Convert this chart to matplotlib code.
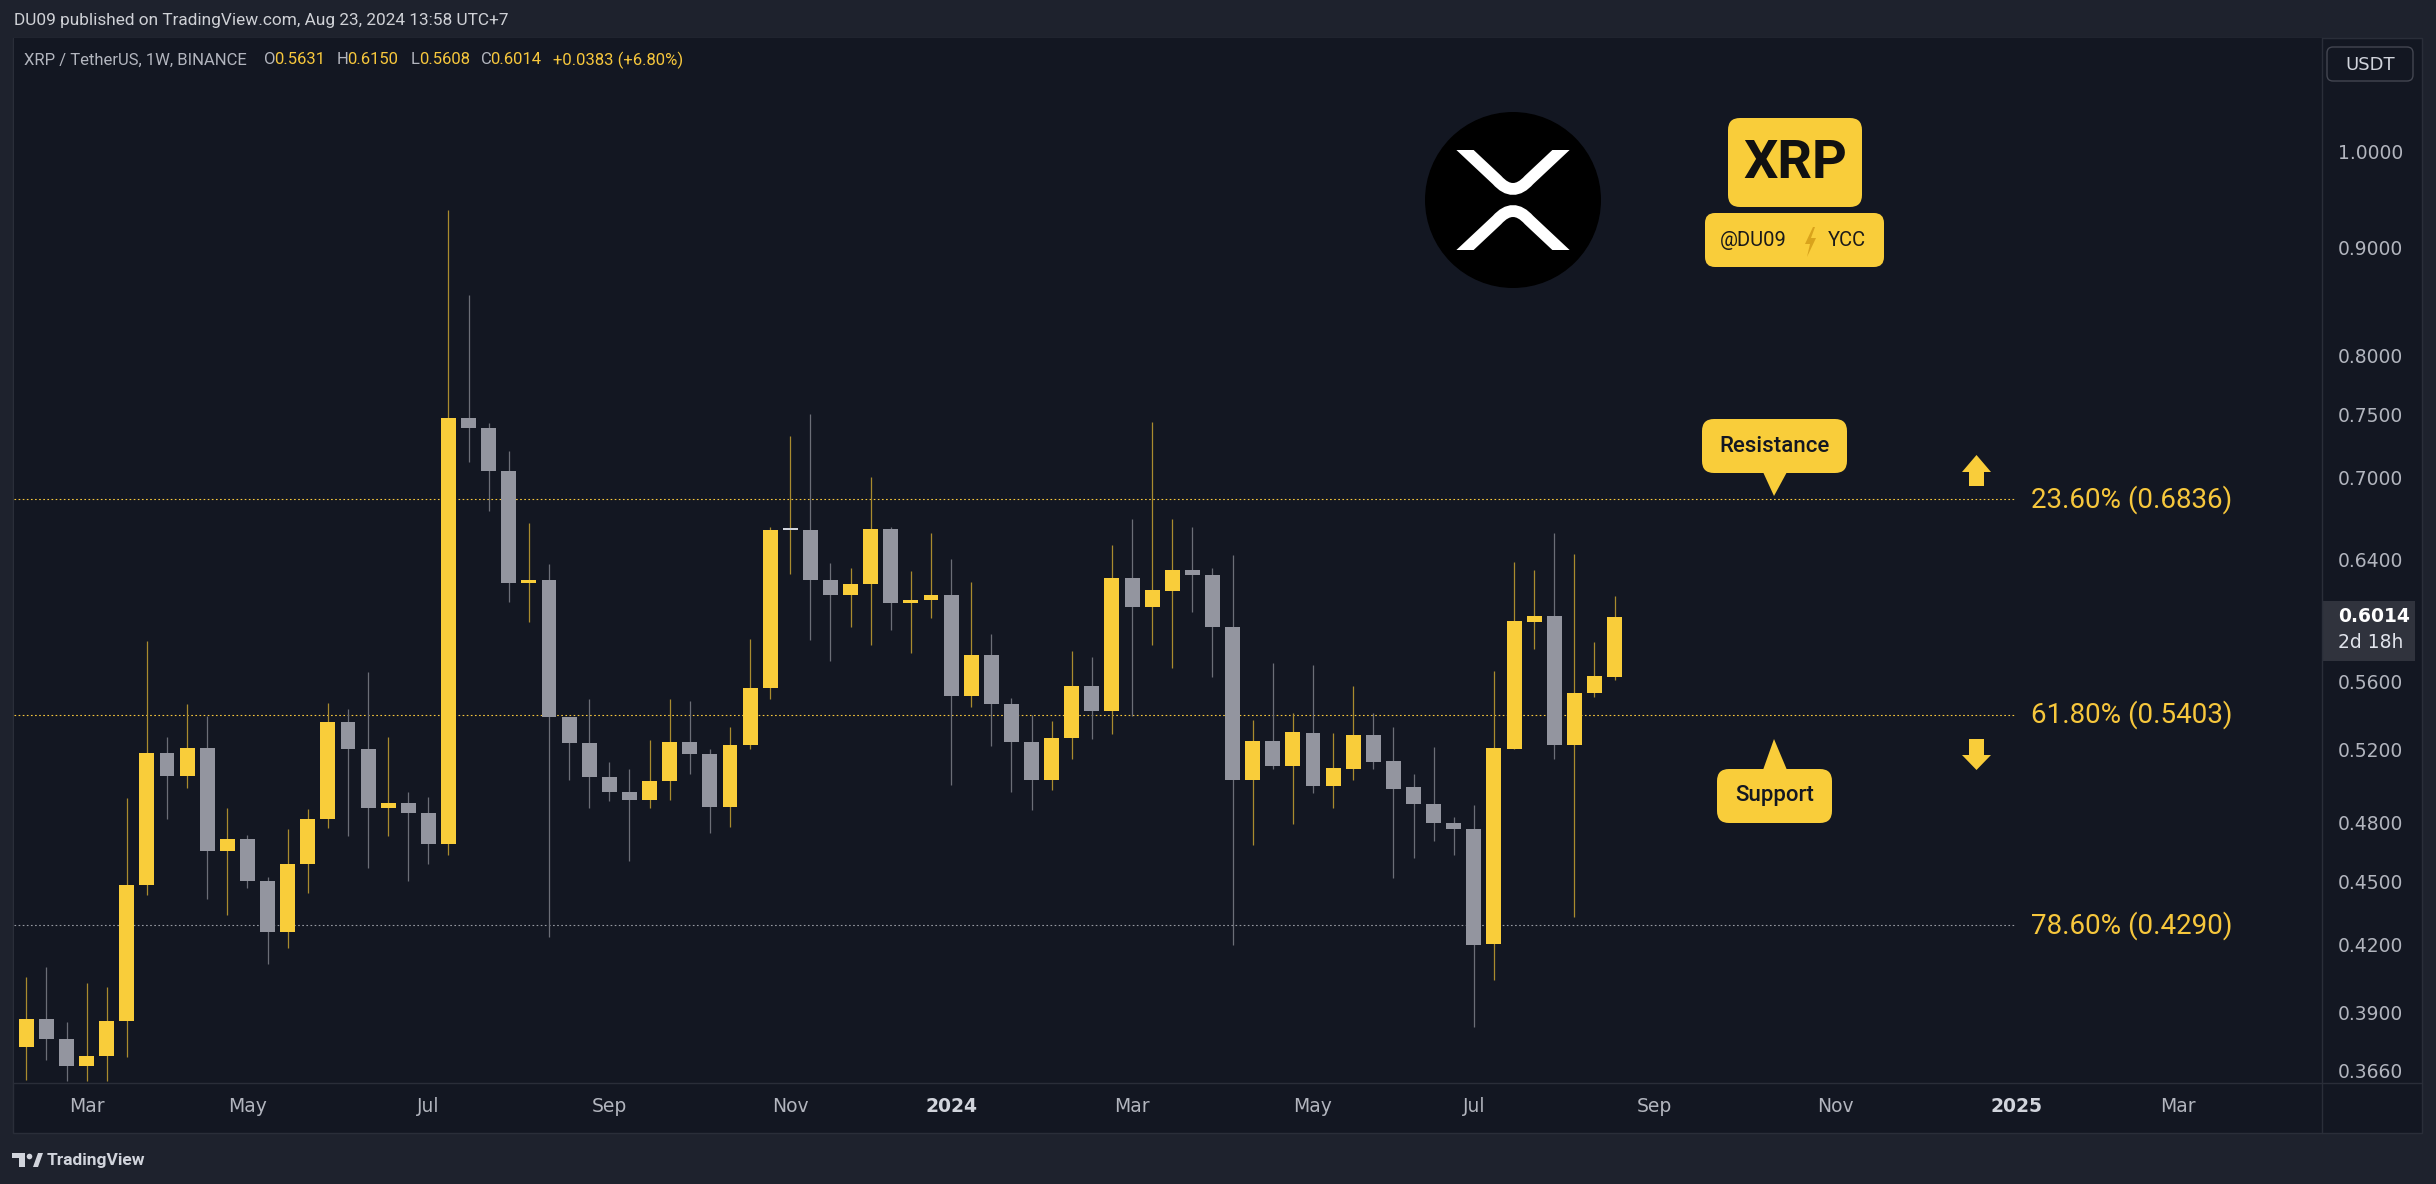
import datetime as dt
import matplotlib
matplotlib.use('Agg')
import matplotlib.pyplot as plt
import matplotlib.dates as mdates
from matplotlib.patches import FancyBboxPatch, Rectangle, Circle, Polygon, PathPatch
from matplotlib.path import Path
from matplotlib.ticker import FixedLocator, NullLocator, NullFormatter, FixedFormatter

plt.rcParams['font.family'] = ['Roboto', 'DejaVu Sans']

# XRP / TetherUS, 1W, Binance - weekly bars, first bar = week of 2023-02-13
first_week = dt.date(2023, 2, 13)
opens = [0.3754, 0.3871, 0.3787, 0.3677, 0.3721, 0.3866, 0.4486, 0.5179, 0.5054, 0.5209,
         0.4656, 0.4714, 0.4503, 0.4261, 0.4586, 0.4822, 0.5358, 0.5205, 0.4877, 0.4905,
         0.4850, 0.4691, 0.7473, 0.7389, 0.7050, 0.6237, 0.6261, 0.5389, 0.5235, 0.5048,
         0.4966, 0.4923, 0.5023, 0.5241, 0.5173, 0.4883, 0.5225, 0.5561, 0.6612, 0.6612,
         0.6257, 0.6156, 0.6233, 0.6617, 0.6102, 0.6121, 0.6156, 0.5516, 0.5767, 0.5464,
         0.5241, 0.5032, 0.5265, 0.5575, 0.5423, 0.6273, 0.6079, 0.6187, 0.6328, 0.6292,
         0.5947, 0.5032, 0.5248, 0.5105, 0.5295, 0.4995, 0.5093, 0.5281, 0.5134, 0.4991,
         0.4898, 0.4801, 0.4768, 0.4205, 0.5205, 0.5980, 0.6018, 0.5228, 0.5529, 0.5631]
highs = [0.4057, 0.4098, 0.3859, 0.4027, 0.4009, 0.4932, 0.5854, 0.5271, 0.5464, 0.5395,
         0.4877, 0.4735, 0.4523, 0.4765, 0.4874, 0.5471, 0.5433, 0.5659, 0.5271, 0.4963,
         0.4935, 0.9380, 0.8547, 0.7431, 0.7206, 0.6662, 0.6368, 0.5389, 0.5495, 0.5128,
         0.5089, 0.5255, 0.5495, 0.5484, 0.5202, 0.5328, 0.5869, 0.6633, 0.7325, 0.7507,
         0.6376, 0.6340, 0.7005, 0.6633, 0.6320, 0.6588, 0.6404, 0.6245, 0.5899, 0.5502,
         0.5399, 0.5365, 0.5792, 0.5752, 0.6505, 0.6692, 0.7441, 0.6692, 0.6633, 0.6340,
         0.6432, 0.5372, 0.5716, 0.5412, 0.5702, 0.5295, 0.5575, 0.5412, 0.5328, 0.5064,
         0.5215, 0.4832, 0.4895, 0.5666, 0.6384, 0.6328, 0.6588, 0.6440, 0.5851, 0.6150]
lows = [0.3624, 0.3704, 0.3617, 0.3617, 0.3617, 0.3716, 0.4436, 0.4822, 0.4988, 0.4416,
        0.4339, 0.4469, 0.4114, 0.4187, 0.4447, 0.4771, 0.4732, 0.4569, 0.4732, 0.4506,
        0.4589, 0.4635, 0.7125, 0.6747, 0.6113, 0.5977, 0.4237, 0.5032, 0.4877, 0.4914,
        0.4603, 0.4877, 0.4920, 0.5061, 0.4744, 0.4780, 0.5205, 0.5498, 0.6304, 0.5865,
        0.5731, 0.5943, 0.5829, 0.5928, 0.5781, 0.6007, 0.5004, 0.5447, 0.5222, 0.4966,
        0.4865, 0.4973, 0.5144, 0.5258, 0.5291, 0.5395, 0.5832, 0.5688, 0.6041, 0.5627,
        0.4200, 0.4682, 0.5089, 0.4792, 0.4960, 0.4877, 0.5032, 0.5089, 0.4520, 0.4618,
        0.4703, 0.4635, 0.3837, 0.4042, 0.5205, 0.5803, 0.5144, 0.4331, 0.5505, 0.5608]
closes = [0.3871, 0.3787, 0.3677, 0.3721, 0.3866, 0.4486, 0.5179, 0.5054, 0.5209, 0.4656,
          0.4714, 0.4503, 0.4261, 0.4586, 0.4822, 0.5358, 0.5205, 0.4877, 0.4905, 0.4850,
          0.4691, 0.7473, 0.7389, 0.7050, 0.6237, 0.6261, 0.5389, 0.5235, 0.5048, 0.4966,
          0.4923, 0.5023, 0.5241, 0.5173, 0.4883, 0.5225, 0.5561, 0.6612, 0.6612, 0.6257,
          0.6156, 0.6233, 0.6617, 0.6102, 0.6125, 0.6156, 0.5516, 0.5767, 0.5464, 0.5241,
          0.5032, 0.5265, 0.5575, 0.5426, 0.6273, 0.6079, 0.6191, 0.6328, 0.6292, 0.5943,
          0.5032, 0.5248, 0.5105, 0.5301, 0.4995, 0.5096, 0.5281, 0.5131, 0.4982, 0.4898,
          0.4801, 0.4768, 0.4200, 0.5209, 0.5984, 0.6018, 0.5228, 0.5533, 0.5634, 0.6014]

fib_pct = ['23.60%', '61.80%', '78.60%']
fib_price = [0.6836, 0.5403, 0.4290]

price_ticks = [0.366, 0.39, 0.42, 0.45, 0.48, 0.52, 0.56, 0.64, 0.70, 0.75, 0.80, 0.90, 1.00]
month_ticks = ['2023-03-06', '2023-05-01', '2023-07-03', '2023-09-04', '2023-11-06', '2024-01-01',
               '2024-03-04', '2024-05-06', '2024-07-01', '2024-09-02', '2024-11-04', '2025-01-06',
               '2025-03-03']
month_labels = ['Mar', 'May', 'Jul', 'Sep', 'Nov', '2024', 'Mar', 'May', 'Jul', 'Sep', 'Nov', '2025', 'Mar']

last_close = closes[-1]
countdown = '2d 18h'

W, H = 2436, 1184
BG = '#1e222d'
PANEL = '#131722'
LINE = '#2a2e39'
UP = '#f9cd3a'
DOWN = '#93959f'
UP_WICK = '#a98b2e'
DOWN_WICK = '#6b6e77'
AXTXT = '#b2b5be'
YEL = '#f7c73c'

fig = plt.figure(figsize=(W / 100, H / 100), dpi=100, facecolor=BG)

# background panel
bg = fig.add_axes([0, 0, 1, 1], zorder=0)
bg.set_xlim(0, W)
bg.set_ylim(H, 0)
bg.axis('off')
bg.add_patch(Rectangle((13, 38), 2409, 1095, fc=PANEL, ec=LINE, lw=1))

# price chart
ax = fig.add_axes([14 / W, 1 - 1083 / H, (2322 - 14) / W, (1083 - 38) / H], zorder=1)
ax.set_facecolor(PANEL)
for s in ax.spines.values():
    s.set_visible(False)
ax.set_yscale('log')

dates = [first_week + dt.timedelta(weeks=i) for i in range(len(opens))]
xs = mdates.date2num(dates)
body_col, wick_col, bottoms, heights = [], [], [], []
for o, c in zip(opens, closes):
    if c > o:
        body_col.append(UP); wick_col.append(UP_WICK)
    elif c < o:
        body_col.append(DOWN); wick_col.append(DOWN_WICK)
    else:
        body_col.append('#d1d4dc'); wick_col.append(UP_WICK)
    lo, hi = min(o, c), max(o, c)
    hi = max(hi, lo * 1.0025)
    bottoms.append(lo)
    heights.append(hi - lo)

ax.vlines(xs, lows, highs, colors=wick_col, lw=0.9, zorder=2)
ax.bar(xs, heights, bottom=bottoms, width=5.2, color=body_col, lw=0, zorder=3)

x0 = mdates.date2num(first_week)
ax.set_xlim(x0 - 4.28, x0 + 799.3)
ax.set_ylim(0.3611, 1.1323)

# fib levels
for pct, p in zip(fib_pct, fib_price):
    col = YEL if p > 0.5 else '#9598a1'
    ax.axhline(p, xmin=0, xmax=0.8667, color=col, lw=0.8, ls=(0, (1.5, 2.2)), zorder=1.5)
    ax.text(0.8739, p, f'{pct} ({p:.4f})', transform=ax.get_yaxis_transform(),
            color=YEL, fontsize=20, va='center', ha='left')

# axes ticks
ax.yaxis.tick_right()
ax.yaxis.set_major_locator(FixedLocator(price_ticks))
ax.yaxis.set_major_formatter(FixedFormatter([f'{v:.4f}' for v in price_ticks]))
ax.yaxis.set_minor_locator(NullLocator())
ax.yaxis.set_minor_formatter(NullFormatter())
ax.tick_params(axis='y', length=0, pad=11.5, labelsize=13.5, labelcolor=AXTXT)
ax.set_xticks(mdates.datestr2num(month_ticks))
ax.set_xticklabels(month_labels)
ax.tick_params(axis='x', length=0, pad=10, labelsize=13.5, labelcolor=AXTXT)
for lbl in ax.get_yticklabels() + ax.get_xticklabels():
    lbl.set_fontfamily('DejaVu Sans')
    if lbl.get_text() in ('2024', '2025'):
        lbl.set_fontweight('bold')
        lbl.set_color('#d1d4dc')

# overlay for decorations
ov = fig.add_axes([0, 0, 1, 1], zorder=5)
ov.set_xlim(0, W)
ov.set_ylim(H, 0)
ov.axis('off')
ov.patch.set_alpha(0)

ov.plot([2322, 2322], [38, 1133], color=LINE, lw=1)
ov.plot([13, 2422], [1083, 1083], color=LINE, lw=1)

ov.text(14, 20, 'DU09 published on TradingView.com, Aug 23, 2024 13:58 UTC+7',
        color='#cfd1d6', fontsize=12.4, va='center', ha='left')

legend_parts = [(24.5, 'XRP / TetherUS, 1W, BINANCE', AXTXT),
                (263.8, 'O', AXTXT), (274, '0.5631', YEL),
                (336.7, 'H', AXTXT), (347, '0.6150', YEL),
                (410.7, 'L', AXTXT), (419, '0.5608', YEL),
                (481, 'C', AXTXT), (490, '0.6014', YEL),
                (552.6, '+0.0383 (+6.80%)', YEL)]
for lx, txt, col in legend_parts:
    ov.text(lx, 60, txt, color=col, fontsize=12, va='center', ha='left')

# USDT box and last price label
ov.add_patch(FancyBboxPatch((2327, 47), 86, 34, boxstyle='round,pad=0,rounding_size=6',
                            fc='none', ec='#434651', lw=1))
ov.text(2370, 64.5, 'USDT', color='#d1d4dc', fontsize=13, ha='center', va='center',
        fontfamily='DejaVu Sans')
ov.add_patch(Rectangle((2322, 601), 93, 60, fc='#30333d', ec='none'))
ov.text(2338, 617, f'{last_close:.4f}', color='white', fontsize=13.5, ha='left', va='center',
        fontfamily='DejaVu Sans', fontweight='bold')
ov.text(2338, 642, countdown, color='#e0e3eb', fontsize=13.5, ha='left', va='center',
        fontfamily='DejaVu Sans')

# XRP logo
ov.add_patch(Circle((1513, 200), 88, fc='black', ec='none'))
MV, LN, C3 = Path.MOVETO, Path.LINETO, Path.CURVE3
top = Path([(1457, 142.5), (1497, 180), (1513, 198), (1529, 180), (1569, 142.5)], [MV, LN, C3, C3, LN])
bot = Path([(1457, 257.5), (1497, 220), (1513, 202), (1529, 220), (1569, 257.5)], [MV, LN, C3, C3, LN])
clip_top = Rectangle((1400, 150), 230, 100, transform=ov.transData)
clip_bot = Rectangle((1400, 150), 230, 100, transform=ov.transData)
pt = PathPatch(top, fc='none', ec='white', lw=8.5, capstyle='butt')
pb = PathPatch(bot, fc='none', ec='white', lw=8.5, capstyle='butt')
ov.add_patch(pt)
ov.add_patch(pb)
pt.set_clip_path(clip_top)
pb.set_clip_path(clip_bot)

# XRP badges
ov.add_patch(FancyBboxPatch((1728, 118), 134, 89, boxstyle='round,pad=0,rounding_size=12',
                            fc=UP, ec='none'))
ov.text(1795, 164, 'XRP', color='#111111', fontsize=39, fontweight='bold', ha='center', va='center')
ov.add_patch(FancyBboxPatch((1705, 213), 179, 54, boxstyle='round,pad=0,rounding_size=10',
                            fc=UP, ec='none'))
ov.text(1720, 241, '@DU09', color='#1a1a1a', fontsize=14.5, ha='left', va='center')
ov.add_patch(Polygon([(1813, 227), (1805, 244), (1810, 244), (1807, 257), (1816, 238),
                      (1811, 238), (1815, 227)], closed=True, fc='#d9a31c', ec='none'))
ov.text(1828, 241, 'YCC', color='#1a1a1a', fontsize=14.5, ha='left', va='center')

# Resistance / Support callouts
ov.add_patch(FancyBboxPatch((1702, 419), 145, 54, boxstyle='round,pad=0,rounding_size=12',
                            fc=UP, ec='none'))
ov.add_patch(Polygon([(1763, 472), (1787, 472), (1774, 496)], closed=True, fc=UP, ec='none'))
ov.text(1774.5, 446, 'Resistance', color='#131722', fontsize=16, fontweight='medium',
        ha='center', va='center')
ov.add_patch(FancyBboxPatch((1717, 769), 115, 54, boxstyle='round,pad=0,rounding_size=12',
                            fc=UP, ec='none'))
ov.add_patch(Polygon([(1763, 770), (1787, 770), (1774, 739)], closed=True, fc=UP, ec='none'))
ov.text(1774.5, 796, 'Support', color='#131722', fontsize=16, fontweight='medium',
        ha='center', va='center')

# arrows
ov.add_patch(Polygon([(1969, 486), (1969, 472), (1962, 472), (1976.5, 455), (1991, 472),
                      (1984, 472), (1984, 486)], closed=True, fc=UP, ec='none'))
ov.add_patch(Polygon([(1969, 739), (1984, 739), (1984, 755), (1991, 755), (1976.5, 770),
                      (1962, 755), (1969, 755)], closed=True, fc=UP, ec='none'))

# TradingView footer
TVC = '#d1d4dc'
ov.add_patch(Polygon([(12, 1153), (25, 1153), (25, 1167), (19, 1167), (19, 1158), (12, 1158)],
                     closed=True, fc=TVC, ec='none'))
ov.add_patch(Circle((29.5, 1156.5), 2.8, fc=TVC, ec='none'))
ov.add_patch(Polygon([(33, 1167), (38, 1153), (43, 1153), (38, 1167)], closed=True, fc=TVC, ec='none'))
ov.text(47, 1160, 'TradingView', color=TVC, fontsize=12.5, fontweight='semibold', ha='left', va='center')

fig.savefig('out.png', dpi=100, facecolor=BG)
